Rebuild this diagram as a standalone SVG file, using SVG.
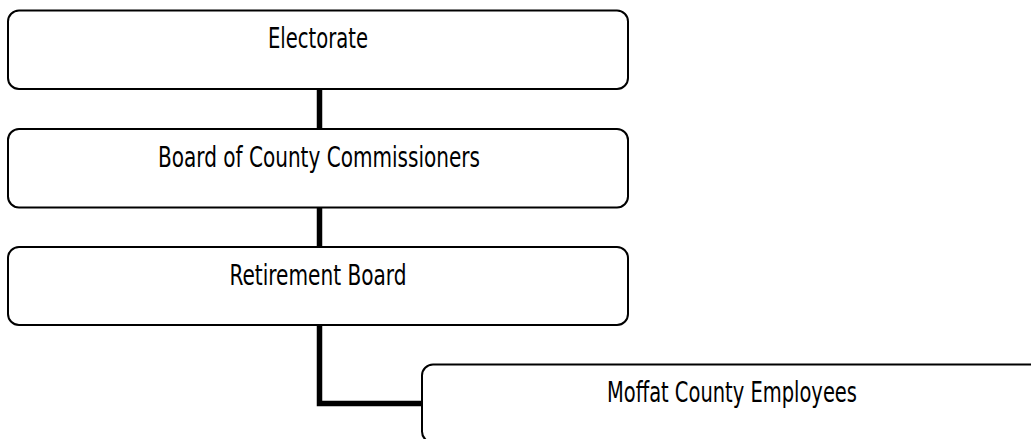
<svg xmlns="http://www.w3.org/2000/svg" width="1031" height="439" viewBox="0 0 1031 439">
<style>
.box{fill:#fff;stroke:#000;stroke-width:2}
.lbl{font-family:"DejaVu Sans Condensed","Liberation Sans","DejaVu Sans",sans-serif;font-size:29px;fill:#000;text-anchor:middle}
.con{fill:none;stroke:#000;stroke-width:5.5;stroke-linejoin:miter}
</style>
<rect width="1031" height="439" fill="#fff"/>
<g id="connectors">
<path class="con" d="M319.5 89 V129"/>
<path class="con" d="M319.5 207.5 V247"/>
<path class="con" d="M319.5 325 V403.5 H422"/>
</g>
<g id="electorate">
<rect class="box" x="8" y="10.5" width="620" height="78.5" rx="11"/>
<text class="lbl" x="318" y="48" textLength="100" lengthAdjust="spacingAndGlyphs">Electorate</text>
</g>
<g id="board-of-county-commissioners">
<rect class="box" x="8" y="129" width="620" height="78.5" rx="11"/>
<text class="lbl" x="319" y="167" textLength="322" lengthAdjust="spacingAndGlyphs">Board of County Commissioners</text>
</g>
<g id="retirement-board">
<rect class="box" x="8" y="247" width="620" height="78" rx="11"/>
<text class="lbl" x="318" y="285" textLength="177" lengthAdjust="spacingAndGlyphs">Retirement Board</text>
</g>
<g id="moffat-county-employees">
<rect class="box" x="422" y="364.5" width="620" height="78" rx="11"/>
<text class="lbl" x="732" y="402" textLength="250" lengthAdjust="spacingAndGlyphs">Moffat County Employees</text>
</g>
</svg>
